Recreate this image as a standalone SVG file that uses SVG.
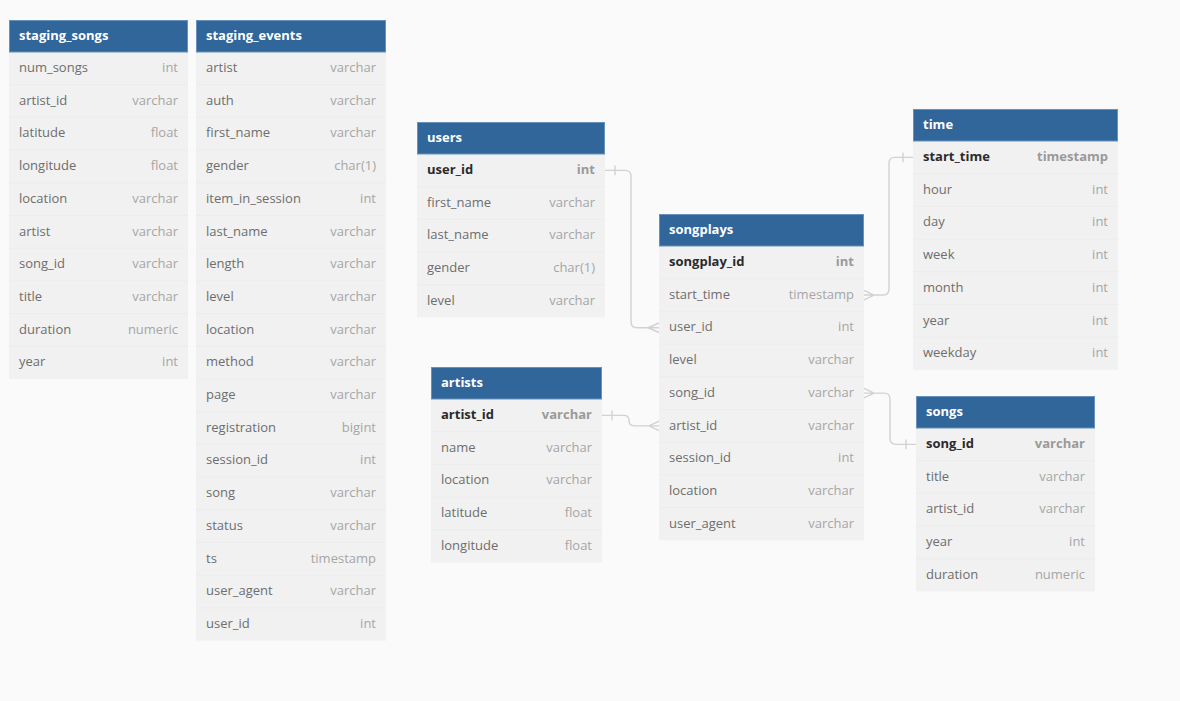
<svg xmlns="http://www.w3.org/2000/svg" width="1180" height="701" viewBox="0 0 1180 701">
<style>
.bg{fill:#fafafa}
.hd{fill:#30669a;stroke:#6591bc;stroke-width:1}
.bd{fill:#f1f1f1}
.sep{stroke:#ececec;stroke-width:1}
.ht{font-family:"Open Sans","Noto Sans",sans-serif;font-size:13px;font-weight:bold;fill:#ffffff}
.f{font-family:"Open Sans","Noto Sans",sans-serif;font-size:13px;fill:#6e6e6e}
.t{font-family:"Open Sans","Noto Sans",sans-serif;font-size:13px;fill:#a6a6a6;text-anchor:end}
.pk{font-family:"Open Sans","Noto Sans",sans-serif;font-size:13px;font-weight:bold;fill:#2b2b2b}
.pkt{font-family:"Open Sans","Noto Sans",sans-serif;font-size:13px;font-weight:bold;fill:#9a9a9a;text-anchor:end}
.c{fill:none;stroke:#d2d2d2;stroke-width:1.4}
</style>
<rect class="bg" x="0" y="0" width="1180" height="701"/>

<g id="connectors">
<path class="c" d="M605,170.35 H625 Q631,170.35 631,176.35 V321.75 Q631,327.75 637,327.75 H659 M615,165.5 V175.2 M648,327.75 L659,323 M648,327.75 L659,332.5"/>
<path class="c" d="M602,415.35 H624 Q629,415.35 629,420.6 Q629,425.85 634,425.85 H659 M612,410.5 V420.2 M649,425.85 L659,421.1 M649,425.85 L659,430.6"/>
<path class="c" d="M913,157.35 H895 Q889,157.35 889,163.35 V289.05 Q889,295.05 883,295.05 H864 M903,152.5 V162.2 M874,295.05 L864,290.3 M874,295.05 L864,299.8"/>
<path class="c" d="M864,393.15 H884 Q890,393.15 890,399.15 V438.35 Q890,444.35 896,444.35 H916 M906,439.5 V449.2 M874,393.15 L864,388.4 M874,393.15 L864,397.9"/>
</g>

<g id="staging_songs">
<rect class="bd" x="9" y="52" width="179" height="327"/>
<path class="sep" d="M9,84.7H188M9,117.4H188M9,150.1H188M9,182.8H188M9,215.5H188M9,248.2H188M9,280.9H188M9,313.6H188M9,346.3H188"/>
<rect class="hd" x="9.5" y="20.5" width="178" height="31.5"/>
<g transform="translate(0,-0.8)">
<text class="ht" x="19" y="40.5">staging_songs</text>
<text class="f" x="19" y="72.9">num_songs</text><text class="t" x="178" y="72.9">int</text>
<text class="f" x="19" y="105.6">artist_id</text><text class="t" x="178" y="105.6">varchar</text>
<text class="f" x="19" y="138.3">latitude</text><text class="t" x="178" y="138.3">float</text>
<text class="f" x="19" y="171">longitude</text><text class="t" x="178" y="171">float</text>
<text class="f" x="19" y="203.7">location</text><text class="t" x="178" y="203.7">varchar</text>
<text class="f" x="19" y="236.4">artist</text><text class="t" x="178" y="236.4">varchar</text>
<text class="f" x="19" y="269.1">song_id</text><text class="t" x="178" y="269.1">varchar</text>
<text class="f" x="19" y="301.8">title</text><text class="t" x="178" y="301.8">varchar</text>
<text class="f" x="19" y="334.5">duration</text><text class="t" x="178" y="334.5">numeric</text>
<text class="f" x="19" y="367.2">year</text><text class="t" x="178" y="367.2">int</text>
</g>
</g>

<g id="staging_events">
<rect class="bd" x="196" y="52" width="190" height="588.6"/>
<path class="sep" d="M196,84.7H386M196,117.4H386M196,150.1H386M196,182.8H386M196,215.5H386M196,248.2H386M196,280.9H386M196,313.6H386M196,346.3H386M196,379H386M196,411.7H386M196,444.4H386M196,477.1H386M196,509.8H386M196,542.5H386M196,575.2H386M196,607.9H386"/>
<rect class="hd" x="196.5" y="20.5" width="189" height="31.5"/>
<g transform="translate(0,-0.8)">
<text class="ht" x="206" y="40.5">staging_events</text>
<text class="f" x="206" y="72.9">artist</text><text class="t" x="376" y="72.9">varchar</text>
<text class="f" x="206" y="105.6">auth</text><text class="t" x="376" y="105.6">varchar</text>
<text class="f" x="206" y="138.3">first_name</text><text class="t" x="376" y="138.3">varchar</text>
<text class="f" x="206" y="171">gender</text><text class="t" x="376" y="171">char(1)</text>
<text class="f" x="206" y="203.7">item_in_session</text><text class="t" x="376" y="203.7">int</text>
<text class="f" x="206" y="236.4">last_name</text><text class="t" x="376" y="236.4">varchar</text>
<text class="f" x="206" y="269.1">length</text><text class="t" x="376" y="269.1">varchar</text>
<text class="f" x="206" y="301.8">level</text><text class="t" x="376" y="301.8">varchar</text>
<text class="f" x="206" y="334.5">location</text><text class="t" x="376" y="334.5">varchar</text>
<text class="f" x="206" y="367.2">method</text><text class="t" x="376" y="367.2">varchar</text>
<text class="f" x="206" y="399.9">page</text><text class="t" x="376" y="399.9">varchar</text>
<text class="f" x="206" y="432.6">registration</text><text class="t" x="376" y="432.6">bigint</text>
<text class="f" x="206" y="465.3">session_id</text><text class="t" x="376" y="465.3">int</text>
<text class="f" x="206" y="498">song</text><text class="t" x="376" y="498">varchar</text>
<text class="f" x="206" y="530.7">status</text><text class="t" x="376" y="530.7">varchar</text>
<text class="f" x="206" y="563.4">ts</text><text class="t" x="376" y="563.4">timestamp</text>
<text class="f" x="206" y="596.1">user_agent</text><text class="t" x="376" y="596.1">varchar</text>
<text class="f" x="206" y="628.8">user_id</text><text class="t" x="376" y="628.8">int</text>
</g>
</g>

<g id="users">
<rect class="bd" x="417" y="154" width="188" height="163.5"/>
<path class="sep" d="M417,186.7H605M417,219.4H605M417,252.1H605M417,284.8H605"/>
<rect class="hd" x="417.5" y="122.5" width="187" height="31.5"/>
<g transform="translate(0,-0.8)">
<text class="ht" x="427" y="142.5">users</text>
<text class="pk" x="427" y="174.9">user_id</text><text class="pkt" x="595" y="174.9">int</text>
<text class="f" x="427" y="207.6">first_name</text><text class="t" x="595" y="207.6">varchar</text>
<text class="f" x="427" y="240.3">last_name</text><text class="t" x="595" y="240.3">varchar</text>
<text class="f" x="427" y="273">gender</text><text class="t" x="595" y="273">char(1)</text>
<text class="f" x="427" y="305.7">level</text><text class="t" x="595" y="305.7">varchar</text>
</g>
</g>

<g id="songplays">
<rect class="bd" x="659" y="246" width="205" height="294.3"/>
<path class="sep" d="M659,278.7H864M659,311.4H864M659,344.1H864M659,376.8H864M659,409.5H864M659,442.2H864M659,474.9H864M659,507.6H864"/>
<rect class="hd" x="659.5" y="214.5" width="204" height="31.5"/>
<g transform="translate(0,-0.8)">
<text class="ht" x="669" y="234.5">songplays</text>
<text class="pk" x="669" y="266.9">songplay_id</text><text class="pkt" x="854" y="266.9">int</text>
<text class="f" x="669" y="299.6">start_time</text><text class="t" x="854" y="299.6">timestamp</text>
<text class="f" x="669" y="332.3">user_id</text><text class="t" x="854" y="332.3">int</text>
<text class="f" x="669" y="365">level</text><text class="t" x="854" y="365">varchar</text>
<text class="f" x="669" y="397.7">song_id</text><text class="t" x="854" y="397.7">varchar</text>
<text class="f" x="669" y="430.4">artist_id</text><text class="t" x="854" y="430.4">varchar</text>
<text class="f" x="669" y="463.1">session_id</text><text class="t" x="854" y="463.1">int</text>
<text class="f" x="669" y="495.8">location</text><text class="t" x="854" y="495.8">varchar</text>
<text class="f" x="669" y="528.5">user_agent</text><text class="t" x="854" y="528.5">varchar</text>
</g>
</g>

<g id="time">
<rect class="bd" x="913" y="141" width="205" height="228.9"/>
<path class="sep" d="M913,173.7H1118M913,206.4H1118M913,239.1H1118M913,271.8H1118M913,304.5H1118M913,337.2H1118"/>
<rect class="hd" x="913.5" y="109.5" width="204" height="31.5"/>
<g transform="translate(0,-0.8)">
<text class="ht" x="923" y="129.5">time</text>
<text class="pk" x="923" y="161.9">start_time</text><text class="pkt" x="1108" y="161.9">timestamp</text>
<text class="f" x="923" y="194.6">hour</text><text class="t" x="1108" y="194.6">int</text>
<text class="f" x="923" y="227.3">day</text><text class="t" x="1108" y="227.3">int</text>
<text class="f" x="923" y="260">week</text><text class="t" x="1108" y="260">int</text>
<text class="f" x="923" y="292.7">month</text><text class="t" x="1108" y="292.7">int</text>
<text class="f" x="923" y="325.4">year</text><text class="t" x="1108" y="325.4">int</text>
<text class="f" x="923" y="358.1">weekday</text><text class="t" x="1108" y="358.1">int</text>
</g>
</g>

<g id="artists">
<rect class="bd" x="431" y="399" width="171" height="163.5"/>
<path class="sep" d="M431,431.7H602M431,464.4H602M431,497.1H602M431,529.8H602"/>
<rect class="hd" x="431.5" y="367.5" width="170" height="31.5"/>
<g transform="translate(0,-0.8)">
<text class="ht" x="441" y="387.5">artists</text>
<text class="pk" x="441" y="419.9">artist_id</text><text class="pkt" x="592" y="419.9">varchar</text>
<text class="f" x="441" y="452.6">name</text><text class="t" x="592" y="452.6">varchar</text>
<text class="f" x="441" y="485.3">location</text><text class="t" x="592" y="485.3">varchar</text>
<text class="f" x="441" y="518">latitude</text><text class="t" x="592" y="518">float</text>
<text class="f" x="441" y="550.7">longitude</text><text class="t" x="592" y="550.7">float</text>
</g>
</g>

<g id="songs">
<rect class="bd" x="916" y="428" width="179" height="163.5"/>
<path class="sep" d="M916,460.7H1095M916,493.4H1095M916,526.1H1095M916,558.8H1095"/>
<rect class="hd" x="916.5" y="396.5" width="178" height="31.5"/>
<g transform="translate(0,-0.8)">
<text class="ht" x="926" y="416.5">songs</text>
<text class="pk" x="926" y="448.9">song_id</text><text class="pkt" x="1085" y="448.9">varchar</text>
<text class="f" x="926" y="481.6">title</text><text class="t" x="1085" y="481.6">varchar</text>
<text class="f" x="926" y="514.3">artist_id</text><text class="t" x="1085" y="514.3">varchar</text>
<text class="f" x="926" y="547">year</text><text class="t" x="1085" y="547">int</text>
<text class="f" x="926" y="579.7">duration</text><text class="t" x="1085" y="579.7">numeric</text>
</g>
</g>
</svg>
